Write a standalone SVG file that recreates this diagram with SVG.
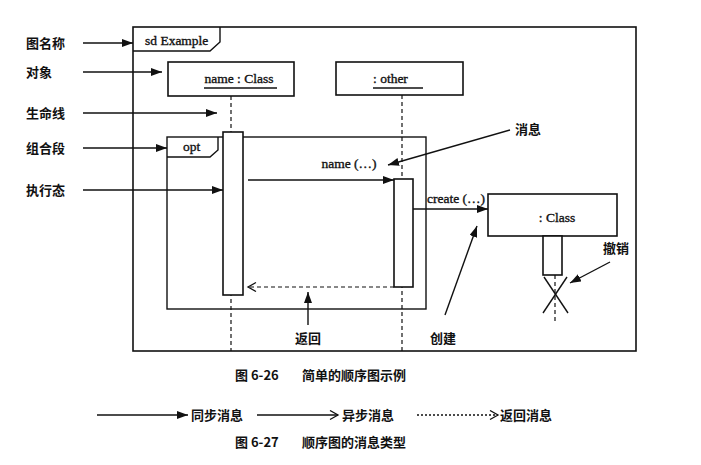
<svg xmlns="http://www.w3.org/2000/svg" width="701" height="465" viewBox="0 0 701 465">
<style>
.ln{stroke:#111;stroke-width:1.4;fill:none}
.box{stroke:#111;stroke-width:1.6;fill:#fff}
.dash{stroke:#111;stroke-width:1.2;fill:none;stroke-dasharray:4,3}
.en{font-family:"Liberation Serif","Times New Roman",serif;font-size:13.5px;fill:#111;stroke:#111;stroke-width:0.35}
.zh{font-family:"Noto Sans CJK SC","Noto Sans",sans-serif;font-size:13px;font-weight:bold;fill:#111}
.cap{font-family:"Noto Sans CJK SC","Noto Sans",sans-serif;font-size:13px;font-weight:bold;fill:#111}
</style>
<defs>
<marker id="fa" markerUnits="userSpaceOnUse" markerWidth="12" markerHeight="10" refX="11" refY="4" orient="auto">
<path d="M0,0 L11,4 L0,8 Z" fill="#111"/>
</marker>
<marker id="oa" markerUnits="userSpaceOnUse" markerWidth="12" markerHeight="12" refX="9" refY="5" orient="auto">
<path d="M1,0.5 L9,5 L1,9.5" fill="none" stroke="#111" stroke-width="1.3"/>
</marker>
</defs>
<rect width="701" height="465" fill="#fff"/>

<g id="frame">
<rect class="box" x="133" y="27" width="503" height="324" fill="none"/>
<path class="ln" d="M133,51 L210,51 L220,42 L220,27"/>
<text class="en" x="145" y="45">sd Example</text>
</g>

<g id="obj-name">
<rect class="box" x="168" y="62" width="126" height="34"/>
<text class="en" x="239" y="83" text-anchor="middle">name : Class</text>
<line class="ln" x1="204" y1="88" x2="277" y2="88"/>
</g>

<g id="obj-other">
<rect class="box" x="336" y="62" width="127" height="33"/>
<text class="en" x="373" y="83">:  other</text>
<line class="ln" x1="373" y1="88" x2="423" y2="88"/>
</g>

<g id="lifelines">
<line class="dash" x1="231" y1="96" x2="231" y2="351"/>
<line class="dash" x1="402" y1="95" x2="402" y2="351"/>
</g>

<g id="opt">
<rect class="ln" x="167" y="137" width="259" height="172"/>
<path class="ln" d="M167,157 L210,157 L218,150 L218,137"/>
<text class="en" x="183" y="151">opt</text>
</g>

<g id="act1">
<rect class="box" x="223" y="132" width="20" height="163"/>
</g>

<g id="act2">
<rect class="box" x="394" y="179" width="19" height="108"/>
</g>

<g id="obj-class">
<rect class="box" x="488" y="194" width="129" height="42"/>
<text class="en" x="557" y="222" text-anchor="middle">: Class</text>
</g>

<g id="act3">
<rect class="box" x="543" y="236" width="19" height="39"/>
<line class="dash" x1="555" y1="275" x2="555" y2="324"/>
<line class="ln" x1="544" y1="277" x2="568" y2="313"/>
<line class="ln" x1="567" y1="277" x2="543" y2="313"/>
</g>

<g id="connectors">
<line class="ln" x1="248" y1="180" x2="394" y2="180" marker-end="url(#fa)"/>
<text class="en" x="349" y="168" text-anchor="middle">name (…)</text>
<line class="dash" x1="394" y1="287" x2="248" y2="287" marker-end="url(#oa)"/>
<line class="ln" x1="413" y1="209" x2="488" y2="209" marker-end="url(#fa)"/>
<text class="en" x="427" y="203">create (…)</text>

<line class="ln" x1="83" y1="43" x2="133" y2="43" marker-end="url(#fa)"/>
<line class="ln" x1="83" y1="72" x2="162" y2="72" marker-end="url(#fa)"/>
<line class="ln" x1="83" y1="113" x2="217" y2="113" marker-end="url(#fa)"/>
<line class="ln" x1="83" y1="148" x2="167" y2="148" marker-end="url(#fa)"/>
<line class="ln" x1="83" y1="190" x2="223" y2="190" marker-end="url(#fa)"/>
<line class="ln" x1="510" y1="130" x2="388" y2="165" marker-end="url(#fa)"/>
<line class="ln" x1="610" y1="262" x2="570" y2="283" marker-end="url(#fa)"/>
<line class="ln" x1="445" y1="315" x2="477" y2="226" marker-end="url(#fa)"/>
<line class="ln" x1="308" y1="325" x2="308" y2="292" marker-end="url(#fa)"/>
</g>

<g id="labels">
<text class="zh" x="26" y="48">图名称</text>
<text class="zh" x="26" y="77">对象</text>
<text class="zh" x="26" y="118">生命线</text>
<text class="zh" x="26" y="153">组合段</text>
<text class="zh" x="26" y="195">执行态</text>
<text class="zh" x="515" y="134">消息</text>
<text class="zh" x="603" y="253">撤销</text>
<text class="zh" x="430" y="343">创建</text>
<text class="zh" x="295" y="343">返回</text>
</g>

<g id="captions">
<text class="cap" x="235" y="380">图 6-26</text>
<text class="cap" x="302" y="380">简单的顺序图示例</text>
<line class="ln" x1="97" y1="415" x2="188" y2="415" marker-end="url(#fa)"/>
<text class="cap" x="191" y="420">同步消息</text>
<line class="ln" x1="257" y1="415" x2="338" y2="415" marker-end="url(#oa)"/>
<text class="cap" x="342" y="420">异步消息</text>
<line class="ln" x1="417" y1="415" x2="498" y2="415" stroke-dasharray="2,2" marker-end="url(#oa)"/>
<text class="cap" x="500" y="420">返回消息</text>
<text class="cap" x="235" y="447">图 6-27</text>
<text class="cap" x="302" y="447">顺序图的消息类型</text>
</g>
</svg>
